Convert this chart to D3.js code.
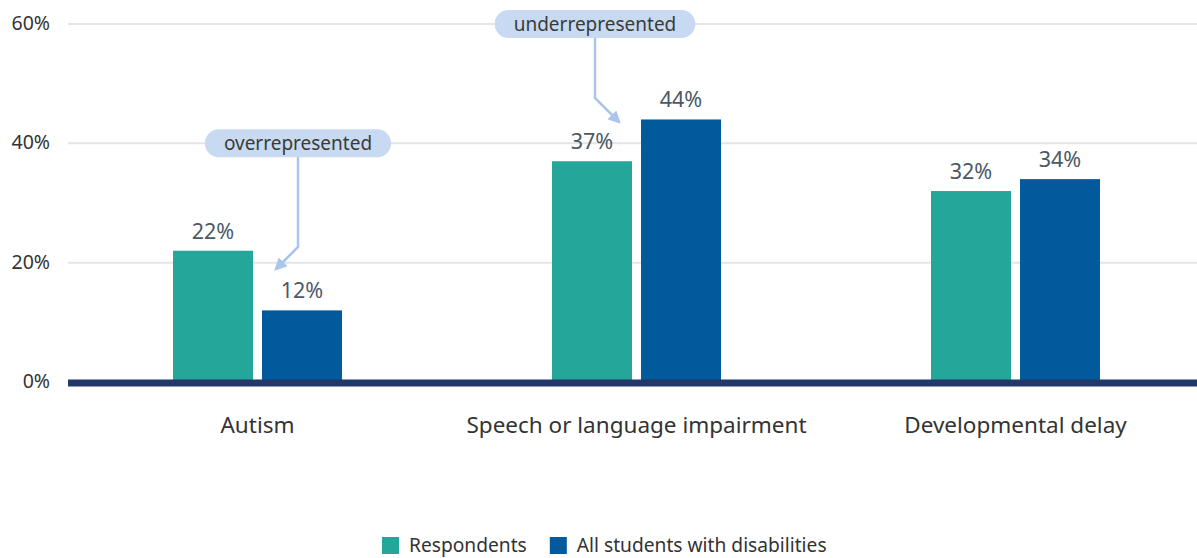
<!DOCTYPE html>
<html>
<head>
<meta charset="utf-8">
<script src="https://cdn.jsdelivr.net/npm/d3@7"></script>
<style>
  body { margin: 0; background: #fff; }
  svg { display: block; font-family: "Noto Sans", "Open Sans", sans-serif; }
</style>
</head>
<body>
<svg id="chart" width="1197" height="558"></svg>
<script>
// data
const categories = ['Autism', 'Speech or language impairment', 'Developmental delay']
const seriesNames = ['Respondents', 'All students with disabilities']
const respondents = [22, 37, 32]
const allStudents = [12, 44, 34]
const yTicks = [0, 20, 40, 60]
const colors = ['#24a69a', '#005a9c']

const svg = d3.select('#chart')
const left = 68, right = 1197

const y = d3.scaleLinear().domain([0, 60]).range([382, 24])
const x0 = d3.scaleBand().domain(categories).range([68, 1205])
const x1 = d3.scaleBand().domain(seriesNames).range([105, 274]).paddingInner(9 / 89)

// gridlines + tick labels
svg.append('g')
  .selectAll('line')
  .data(yTicks.filter(t => t > 0))
  .join('line')
  .attr('x1', left)
  .attr('x2', right)
  .attr('y1', d => y(d))
  .attr('y2', d => y(d))
  .style('stroke', '#e5e5e5')
  .style('stroke-width', 2)

svg.append('g')
  .selectAll('text')
  .data(yTicks)
  .join('text')
  .attr('x', 50)
  .attr('y', d => y(d) + 6)
  .attr('text-anchor', 'end')
  .text(d => d + '%')
  .style('font-size', '19.5px')
  .style('fill', '#333')

// bars
const rows = categories.map((c, i) => ({ cat: c, vals: [respondents[i], allStudents[i]] }))
const groups = svg.append('g')
  .selectAll('g')
  .data(rows)
  .join('g')
  .attr('transform', d => `translate(${x0(d.cat)},0)`)

groups.selectAll('rect')
  .data(d => d.vals.map((v, i) => ({ key: seriesNames[i], v: v, i: i })))
  .join('rect')
  .attr('x', d => x1(d.key))
  .attr('y', d => y(d.v))
  .attr('width', x1.bandwidth())
  .attr('height', d => y(0) - y(d.v))
  .style('fill', d => colors[d.i])

groups.selectAll('text')
  .data(d => d.vals.map((v, i) => ({ key: seriesNames[i], v: v })))
  .join('text')
  .attr('x', d => x1(d.key) + x1.bandwidth() / 2)
  .attr('y', d => y(d.v) - 12)
  .attr('text-anchor', 'middle')
  .text(d => d.v + '%')
  .style('font-size', '21.5px')
  .style('fill', '#4b5966')

// baseline
svg.append('line')
  .attr('x1', left)
  .attr('x2', right)
  .attr('y1', y(0) + 1)
  .attr('y2', y(0) + 1)
  .style('stroke', '#213869')
  .style('stroke-width', 7)

// category labels
svg.append('g')
  .selectAll('text')
  .data(categories)
  .join('text')
  .attr('x', d => x0(d) + x0.bandwidth() / 2)
  .attr('y', 433)
  .attr('text-anchor', 'middle')
  .text(d => d)
  .style('font-size', '22.5px')
  .style('fill', '#333')

// annotations
const notes = [
  { text: 'overrepresented', cat: 0, val: 40, lineX: 298, bend: 247, tip: [276, 269] },
  { text: 'underrepresented', cat: 1, val: 60, lineX: 595, bend: 98, tip: [619, 122] }
]
const arrowColor = '#a9c5ec'
svg.append('defs').append('marker')
  .attr('id', 'head')
  .attr('viewBox', '0 0 10 10')
  .attr('refX', 8)
  .attr('refY', 5)
  .attr('markerWidth', 5)
  .attr('markerHeight', 5)
  .attr('orient', 'auto')
  .append('path')
  .attr('d', 'M0,0 L10,5 L0,10 z')
  .style('fill', arrowColor)

notes.forEach(n => {
  const cy = y(n.val)
  const g = svg.append('g')
  g.append('path')
    .attr('d', `M${n.lineX},${cy + 10} L${n.lineX},${n.bend} L${n.tip[0]},${n.tip[1]}`)
    .style('fill', 'none')
    .style('stroke', arrowColor)
    .style('stroke-width', 2.5)
    .attr('marker-end', 'url(#head)')
  const t = g.append('text')
    .attr('x', n.lineX)
    .attr('y', cy + 7)
    .attr('text-anchor', 'middle')
    .text(n.text)
    .style('font-size', '19px')
    .style('fill', '#3a3a3a')
  const w = t.node().getComputedTextLength() + 38
  g.insert('rect', 'text')
    .attr('x', n.lineX - w / 2)
    .attr('y', cy - 14)
    .attr('width', w)
    .attr('height', 28)
    .attr('rx', 14)
    .style('fill', '#c8daf1')
})

// legend
const legend = svg.append('g')
const items = legend.selectAll('g')
  .data(seriesNames)
  .join('g')
items.append('rect')
  .attr('y', 537)
  .attr('width', 17)
  .attr('height', 17)
  .style('fill', (d, i) => colors[i])
items.append('text')
  .attr('x', 27)
  .attr('y', 552)
  .text(d => d)
  .style('font-size', '19.2px')
  .style('fill', '#333')
let lx = 382
items.each(function () {
  d3.select(this).attr('transform', `translate(${lx},0)`)
  lx += 27 + d3.select(this).select('text').node().getComputedTextLength() + 23
})
</script>
</body>
</html>
